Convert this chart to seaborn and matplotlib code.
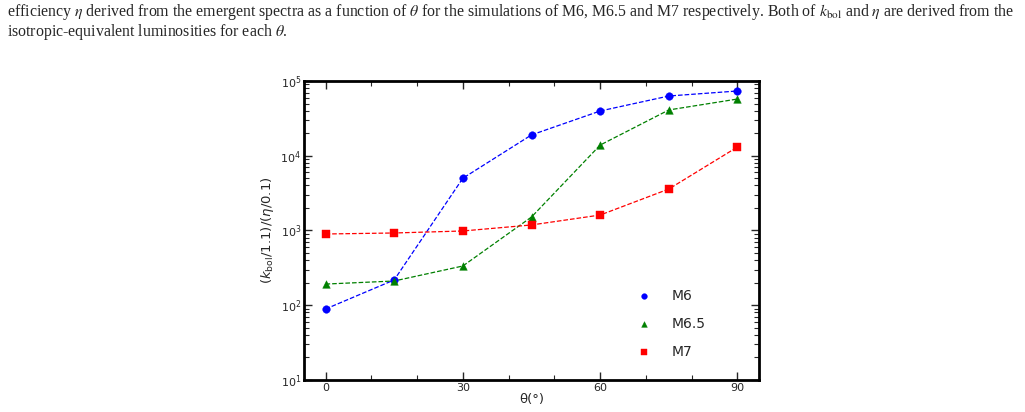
import numpy as np
import pandas as pd
import matplotlib
matplotlib.use('Agg')
import matplotlib.pyplot as plt
import seaborn as sns
from matplotlib.ticker import LogLocator, MultipleLocator, NullFormatter

# 数据
theta = [0, 15, 30, 45, 60, 75, 90]
m6 = [89, 218, 5000, 19000, 39700, 63000, 73500]
m65 = [192, 211, 335, 1515, 13900, 41000, 57400]
m7 = [898, 926, 985, 1186, 1610, 3590, 13100]
models = ['M6', 'M6.5', 'M7']
colors = ['blue', 'green', 'red']
markers = ['o', '^', 's']

sns.set_style('ticks')
plt.rcParams['font.family'] = ['DejaVu Sans']

df = pd.DataFrame({'theta': theta * 3,
                   'ratio': m6 + m65 + m7,
                   'model': np.repeat(models, len(theta))})

fig = plt.figure(figsize=(10.25, 4.12), dpi=100)
ax = fig.add_axes([0.2966, 0.0777, 0.4439, 0.7257])

for name, c, mk in zip(models, colors, markers):
    sub = df[df['model'] == name]
    sns.lineplot(data=sub, x='theta', y='ratio', color=c, linestyle='--',
                 linewidth=0.9, ax=ax, legend=False)
    sns.scatterplot(data=sub, x='theta', y='ratio', color=c, marker=mk,
                    s=30, edgecolor=c, linewidth=0.3, label=name, ax=ax, zorder=3)

ax.set_yscale('log')
ax.set_ylim(10, 1e5)
ax.set_xlim(-4.7, 94.7)
ax.xaxis.set_major_locator(MultipleLocator(30))
ax.xaxis.set_minor_locator(MultipleLocator(10))
ax.yaxis.set_major_locator(LogLocator(base=10))
ax.yaxis.set_minor_locator(LogLocator(base=10, subs=np.arange(2, 10)))
ax.yaxis.set_minor_formatter(NullFormatter())
ax.tick_params(which='both', direction='in', top=True, right=True, labelsize=8, pad=2)
ax.tick_params(which='major', length=6, width=1)
ax.tick_params(which='minor', length=3.5, width=0.8)
for sp in ax.spines.values():
    sp.set_linewidth(2)
    sp.set_color('black')

ax.set_xlabel('θ(°)', fontsize=9.5, labelpad=0)
ax.set_ylabel(r'$(k_{\rm bol}/1.1)/(\eta/0.1)$', fontsize=9.5, labelpad=3)

ax.legend(frameon=False, loc='lower right', bbox_to_anchor=(0.91, 0.03),
          fontsize=10, handletextpad=0.95, labelspacing=1.0, markerscale=0.75)

# 图注文字
cap1 = (r'efficiency $\eta$ derived from the emergent spectra as a function of $\theta$ '
        r'for the simulations of M6, M6.5 and M7 respectively. Both of $k_{\rm bol}$ '
        r'and $\eta$ are derived from the')
cap2 = r'isotropic-equivalent luminosities for each $\theta$.'
fig.text(0.007, 0.97, cap1, fontsize=11.4, family='Liberation Serif',
         math_fontfamily='stix', va='center')
fig.text(0.007, 0.922, cap2, fontsize=11.4, family='Liberation Serif',
         math_fontfamily='stix', va='center')

fig.savefig('out.png', dpi=100)
